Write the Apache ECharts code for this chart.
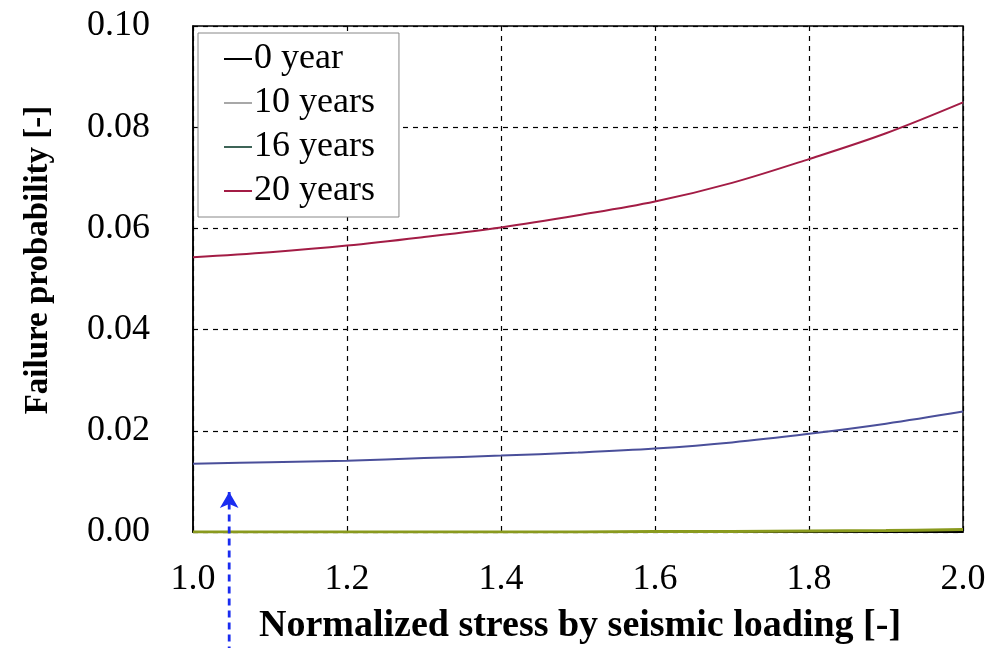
<!DOCTYPE html>
<html><head><meta charset="utf-8">
<script src="https://cdn.jsdelivr.net/npm/echarts@6/dist/echarts.min.js"></script>
<style>html,body{margin:0;padding:0;background:#fff}#c{width:996px;height:648px}</style>
</head><body><div id="c"></div>
<script>
const xValues = [1.0, 1.1, 1.2, 1.3, 1.4, 1.5, 1.6, 1.7, 1.8, 1.9, 2.0];
const seriesNames = ['0 year', '10 years', '16 years', '20 years'];
const year0 = [0, 0, 0, 0, 0, 0, 0, 0, 0, 0, 0];
const year10 = [0, 0, 0, 0, 0, 0, 0.0001, 0.0001, 0.0002, 0.0003, 0.0005];
const year16 = [0.0135, 0.0138, 0.0141, 0.0146, 0.0151, 0.0157, 0.0165, 0.0177, 0.0194, 0.0214, 0.0238];
const year20 = [0.0543, 0.0553, 0.0566, 0.0583, 0.0602, 0.0626, 0.0653, 0.0690, 0.0737, 0.0788, 0.0849];
const arrowX = [1.047, 1.047];
const arrowY = [-0.024, 0.0079];
const lineColors = ['#000000', '#8a9a1e', '#4a4f9a', '#a31c45'];
const legendColors = ['#000000', '#a8a8a8', '#3e6457', '#a31c45'];

const font = 'Liberation Serif';
const chart = echarts.init(document.getElementById('c'), null, {renderer: 'canvas'});
const allData = [year0, year10, year16, year20];
const pair = arr => xValues.map((x, i) => [x, arr[i]]);

const series = seriesNames.map((n, k) => ({
  name: n, type: 'line', data: pair(allData[k]), smooth: 0.35, showSymbol: false,
  lineStyle: {color: lineColors[k], width: k === 1 ? 3 : 2}, itemStyle: {color: lineColors[k]},
  z: 3 + k
}));
series.push({
  name: 'arrow', type: 'line', clip: false, silent: true, z: 10,
  data: [
    {value: [arrowX[0], arrowY[0]], symbol: 'none'},
    {value: [arrowX[1], arrowY[1]], symbol: 'arrow', symbolSize: [14, 16]}
  ],
  showSymbol: true, showAllSymbol: true,
  lineStyle: {color: '#1a2cf0', type: [7, 5], width: 2.8},
  itemStyle: {color: '#1a2cf0', borderWidth: 0}
});

chart.setOption({
  animation: false,
  backgroundColor: '#fff',
  grid: {left: 193, right: 33, top: 26, bottom: 116, show: true, borderColor: '#000', borderWidth: 1.5, backgroundColor: 'transparent'},
  legend: {
    orient: 'vertical', left: 198, top: 33, padding: [8, 24, 8, 26], itemGap: 8,
    itemWidth: 28, itemHeight: 2, backgroundColor: '#fff', borderColor: '#888', borderWidth: 1,
    textStyle: {fontFamily: font, fontSize: 36, color: '#000', padding: [0, 0, 0, -3]},
    icon: 'rect',
    data: seriesNames.map((n, k) => ({name: n, itemStyle: {color: legendColors[k]}, lineStyle: {color: legendColors[k]}}))
  },
  xAxis: {
    type: 'value', min: 1.0, max: 2.0, interval: 0.2,
    axisLine: {lineStyle: {color: '#000', width: 1.5}},
    axisTick: {show: false},
    axisLabel: {fontFamily: font, fontSize: 36, color: '#000', margin: 30, formatter: v => v.toFixed(1)},
    splitLine: {show: true, lineStyle: {color: '#000', type: [5, 5], width: 1.2}}
  },
  yAxis: {
    type: 'value', min: 0, max: 0.1, interval: 0.02,
    axisLine: {show: true, lineStyle: {color: '#000', width: 1.5}},
    axisTick: {show: true, inside: true, length: 5, lineStyle: {color: '#000'}},
    axisLabel: {fontFamily: font, fontSize: 36, color: '#000', margin: 43, formatter: v => v.toFixed(2)},
    splitLine: {show: true, lineStyle: {color: '#000', type: [5, 5], width: 1.2}}
  },
  graphic: [
    {type: 'text', x: 580, y: 626, style: {text: 'Normalized stress by seismic loading [-]', fontFamily: font, fontSize: 38, fontWeight: 'bold', fill: '#000', align: 'center', verticalAlign: 'middle'}},
    {type: 'text', x: 38, y: 260, rotation: Math.PI / 2, style: {text: 'Failure probability [-]', fontFamily: font, fontSize: 33, fontWeight: 'bold', fill: '#000', align: 'center', verticalAlign: 'middle'}}
  ],
  series: series
});
</script></body></html>
